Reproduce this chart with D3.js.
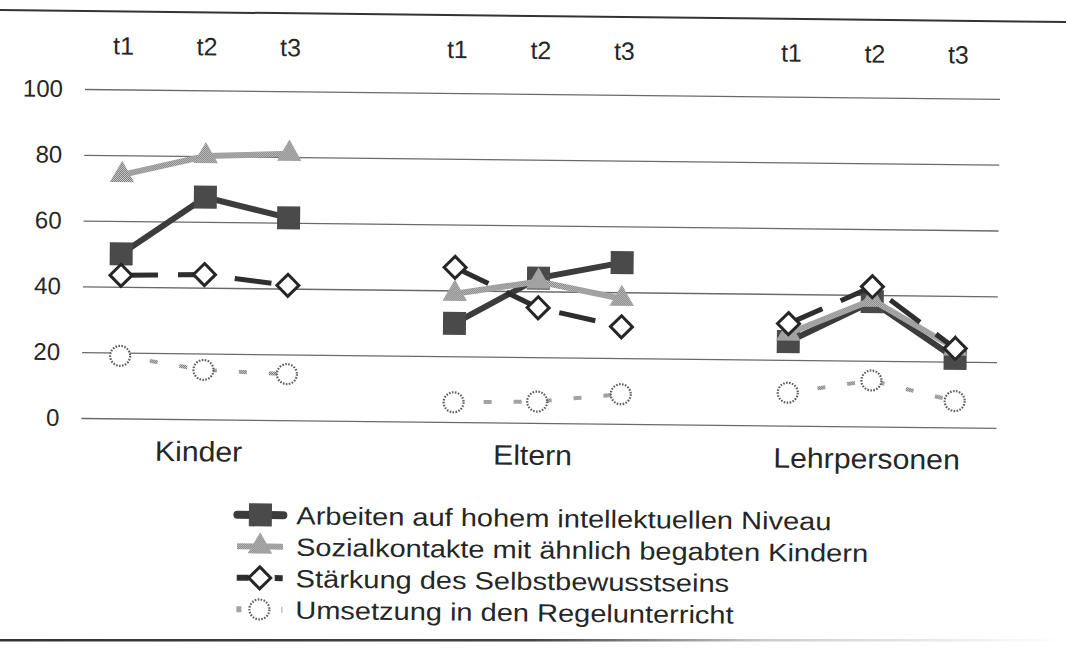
<!DOCTYPE html>
<html lang="de">
<head>
<meta charset="UTF-8">
<script src="https://cdn.jsdelivr.net/npm/d3@7/dist/d3.min.js"></script>
<style>
  body { margin: 0; background: #fff; }
  text { font-family: "Liberation Sans", Arial, sans-serif; fill: #262626; }
</style>
</head>
<body>
<svg id="chart" width="1066" height="648"></svg>
<script>
// data
const groups = ["Kinder", "Eltern", "Lehrpersonen"];
const times = ["t1", "t2", "t3"];
const yTicks = [0, 20, 40, 60, 80, 100];
const seriesNames = [
  "Arbeiten auf hohem intellektuellen Niveau",
  "Sozialkontakte mit ähnlich begabten Kindern",
  "Stärkung des Selbstbewusstseins",
  "Umsetzung in den Regelunterricht"
];
// values per group: Kinder t1-t3, Eltern t1-t3, Lehrpersonen t1-t3
const arbeiten   = [50, 67.5, 61.5, 30, 44, 49, 25.5, 38, 21];
const sozial     = [74, 80, 81, 39, 43, 38, 28, 38.5, 24];
const staerkung  = [43.5, 44, 41, 47, 35, 29.5, 31, 42.5, 24];
const umsetzung  = [19, 15, 14, 6, 6.5, 9, 10, 14, 8];

let svg = d3.select("#chart");

// checkered grey like the print dither
let defs = svg.append("defs");
let pat = defs.append("pattern").attr("id", "dither")
  .attr("width", 2).attr("height", 2).attr("patternUnits", "userSpaceOnUse");
pat.append("rect").attr("width", 2).attr("height", 2).attr("fill", "#d0d0d0");
pat.append("rect").attr("width", 1).attr("height", 1).attr("fill", "#747474");
pat.append("rect").attr("x", 1).attr("y", 1).attr("width", 1).attr("height", 1).attr("fill", "#747474");

// frame lines of the scan
svg.append("line").attr("x1", 0).attr("y1", 10).attr("x2", 1066).attr("y2", 22)
  .attr("stroke", "#333").attr("stroke-width", 2);
let fade = defs.append("linearGradient").attr("id", "fade");
fade.append("stop").attr("offset", "0").attr("stop-color", "#333");
fade.append("stop").attr("offset", "0.5").attr("stop-color", "#444");
fade.append("stop").attr("offset", "0.72").attr("stop-color", "#ccc");
fade.append("stop").attr("offset", "1").attr("stop-color", "#fff");
svg.append("rect").attr("x", 0).attr("y", 639).attr("width", 1066).attr("height", 2.5)
  .attr("fill", "url(#fade)");

// the whole chart is slightly tilted in the scan
let chart = svg.append("g").attr("transform", "rotate(0.62,85,89)");

/* SCALES */
let slots = [];
groups.forEach((g, gi) => {
  times.forEach(t => slots.push(g + "|" + t));
  if (gi < groups.length - 1) slots.push("gap" + gi);
});
let x = d3.scalePoint().domain(slots).range([123, 958]);
let y = d3.scaleLinear().domain([0, 100]).range([418, 89]);

/* GRID + Y AXIS */
let yAxis = d3.axisLeft(y).tickValues(yTicks).tickSize(-915).tickPadding(22);
let ga = chart.append("g").attr("transform", "translate(85,0)").call(yAxis);
ga.select(".domain").remove();
ga.selectAll(".tick line").attr("stroke", "#6a6a6a").attr("stroke-width", 1.3);
ga.selectAll(".tick text").attr("font-size", 24).attr("fill", "#262626")
  .style("font-family", "Liberation Sans, Arial, sans-serif");

/* TOP LABELS t1 t2 t3 and group names */
groups.forEach(g => {
  times.forEach(t => {
    chart.append("text").text(t)
      .attr("x", x(g + "|" + t)).attr("y", 54)
      .attr("text-anchor", "middle").attr("font-size", 25);
  });
  chart.append("text").text(g)
    .attr("transform", `translate(${x(g + "|t2") - 4},460) scale(1.08,1)`)
    .attr("text-anchor", "middle").attr("font-size", 28);
});

/* SERIES */
const styles = [
  { values: arbeiten, stroke: "#3c3c3c", width: 6, dash: null, marker: "square" },
  { values: sozial, stroke: "url(#dither)", width: 6, dash: null, marker: "triangle" },
  { values: staerkung, stroke: "#2e2e2e", width: 5, dash: "37,20", marker: "diamond" },
  { values: umsetzung, stroke: "url(#dither)", width: 4, dash: "8,22", marker: "circle" }
];

function drawMarker(sel, kind) {
  if (kind === "square") {
    sel.append("rect").attr("x", -11.5).attr("y", -11.5).attr("width", 23).attr("height", 23)
      .attr("fill", "#4a4a4a");
  } else if (kind === "triangle") {
    sel.append("path").attr("d", d3.symbol(d3.symbolTriangle, 260)())
      .attr("fill", "url(#dither)");
  } else if (kind === "diamond") {
    sel.append("path").attr("d", "M0,-11 L11,0 L0,11 L-11,0 Z")
      .attr("fill", "#fff").attr("stroke", "#262626").attr("stroke-width", 3);
  } else {
    sel.append("circle").attr("r", 10)
      .attr("fill", "#fff").attr("stroke", "#5e5e5e").attr("stroke-width", 2.2)
      .attr("stroke-dasharray", "1.6,1.4");
  }
}

let line = d3.line().x(d => x(d.key)).y(d => y(d.v));

styles.forEach(s => {
  let pts = [];
  groups.forEach((g, gi) => times.forEach((t, ti) => pts.push({ key: g + "|" + t, group: g, v: s.values[gi * 3 + ti] })));
  let sg = chart.append("g");
  groups.forEach(g => {
    sg.append("path").datum(pts.filter(p => p.group === g))
      .attr("d", line)
      .attr("fill", "none")
      .attr("stroke", s.stroke)
      .attr("stroke-width", s.width)
      .attr("stroke-dasharray", s.dash);
  });
  sg.selectAll(".mk").data(pts).enter().append("g")
    .attr("transform", d => `translate(${x(d.key)},${y(d.v)})`)
    .each(function () { drawMarker(d3.select(this), s.marker); });
});

/* LEGEND */
const legendDash = [null, null, "12,26,12", "5,40,5"];
let legend = chart.append("g").attr("transform", "translate(240,513)");
styles.forEach((s, i) => {
  let row = legend.append("g").attr("transform", `translate(0,${i * 31.5})`);
  row.append("line").attr("x1", 2).attr("x2", 48)
    .attr("stroke", s.stroke).attr("stroke-width", i === 0 ? 8 : 6)
    .attr("stroke-linecap", i === 0 ? "round" : "butt")
    .attr("stroke-dasharray", legendDash[i]);
  let m = row.append("g").attr("transform", "translate(25,0)");
  drawMarker(m, s.marker);
  row.append("text").text(seriesNames[i])
    .attr("transform", "translate(61,9) scale(1.16,1)")
    .attr("font-size", 25);
});
</script>
</body>
</html>
